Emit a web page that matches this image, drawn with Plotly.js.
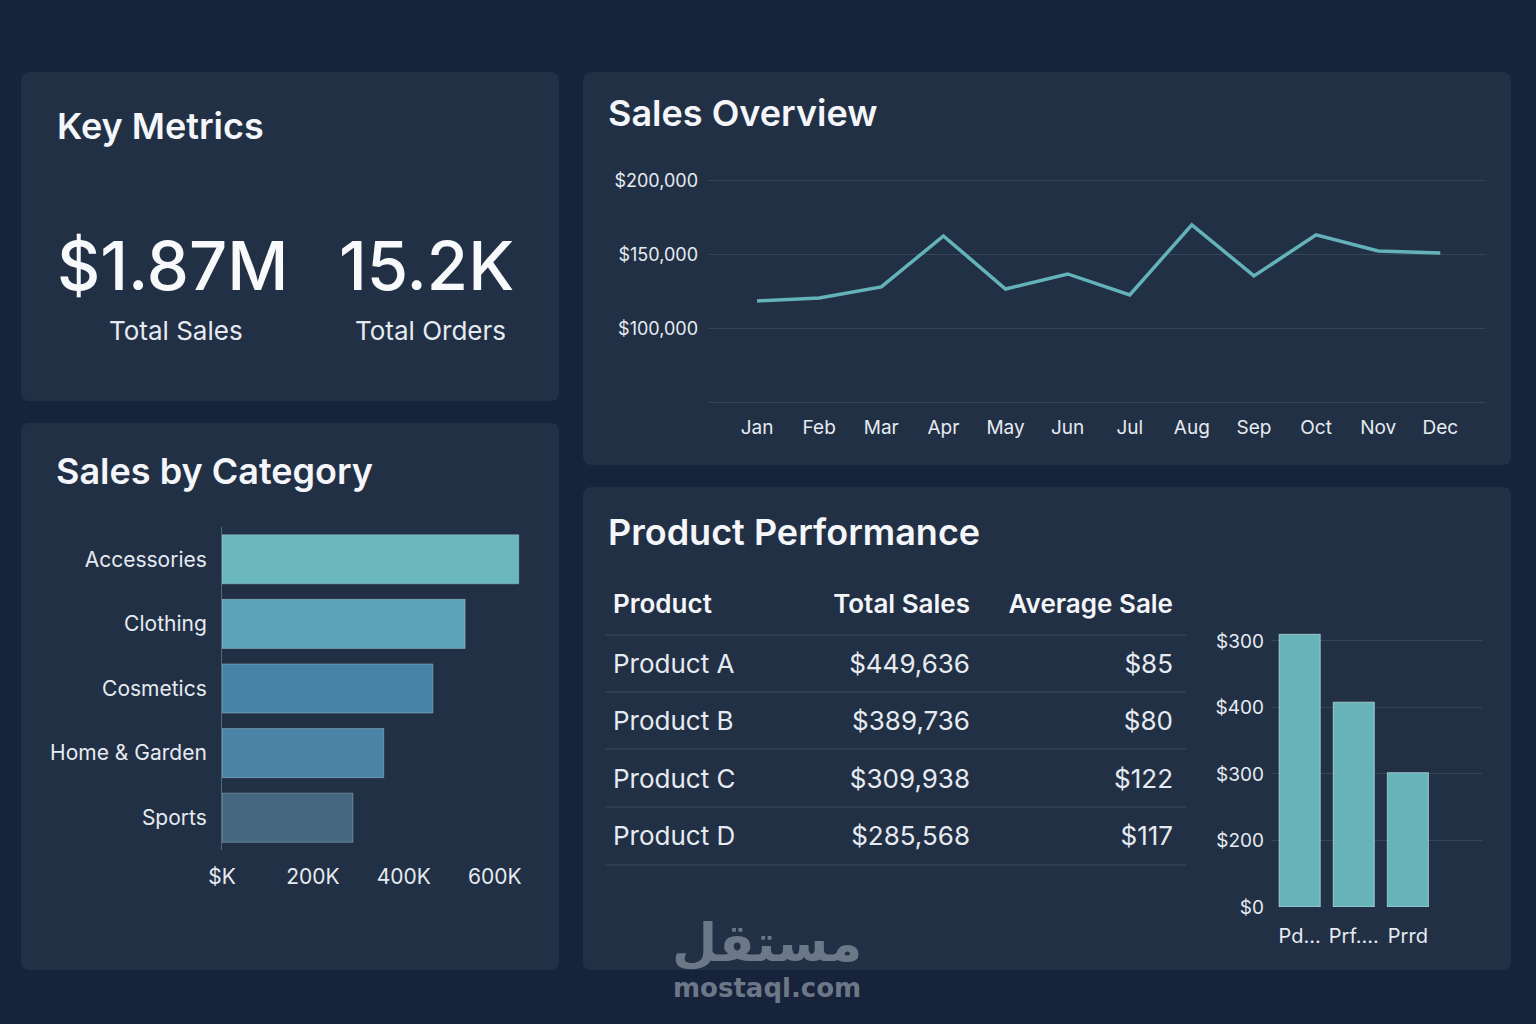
<!DOCTYPE html>
<html>
<head>
<meta charset="utf-8">
<script src="https://cdn.plot.ly/plotly-3.0.1.min.js"></script>
<style>
  html, body { margin:0; padding:0; background:#17233a; }
  #chart { width:1536px; height:1024px; }
</style>
</head>
<body>
<div id="chart"></div>
<script>
// ---------------- DATA ----------------
const metricValues = ["$1.87M", "15.2K"];
const metricLabels = ["Total Sales", "Total Orders"];

const months = ["Jan","Feb","Mar","Apr","May","Jun","Jul","Aug","Sep","Oct","Nov","Dec"];
const monthlySales = [118600, 120600, 128100, 162700, 126700, 136900, 122700, 170200, 135600, 163400, 152500, 151200];
const salesTickVals = [50000, 100000, 150000, 200000];
const salesTickText = ["", "$100,000", "$150,000", "$200,000"];

const categories = ["Accessories", "Clothing", "Cosmetics", "Home & Garden", "Sports"];
const categorySales = [653000, 535000, 464000, 356000, 288000];
const categoryTickVals = [0, 200000, 400000, 600000];
const categoryTickText = ["$K", "200K", "400K", "600K"];

const tableHeader = ["Product", "Total Sales", "Average Sale"];
const products = ["Product A", "Product B", "Product C", "Product D"];
const productTotalSales = [449636, 389736, 309938, 285568];
const productAvgSale = [85, 80, 122, 117];

const miniLabels = ["Pd...", "Prf....", "Prrd"];
const miniValues = [410, 308, 202];
const miniTickVals = [0, 100, 200, 300, 400];
const miniTickText = ["$0", "$200", "$300", "$400", "$300"];

// ---------------- STYLE ----------------
const W = 1536, H = 1024;
const px = x => x / W;
const py = y => 1 - y / H;
const BG = "#17233a";
const PANEL = "#223046";
const TEAL = "#64b3bb";
const TXT = "#e6ebf1";
const GRID = "rgba(255,255,255,0.10)";
const FONT = "Inter, 'Noto Sans', sans-serif";
const catColors = ["#6ab7bd", "#5da3b8", "#4682a6", "#4b84a6", "#45677f"];

function rr(x0, y0, x1, y1, r) {
  const X = x => px(x), Y = y => py(y);
  return `M ${X(x0 + r)} ${Y(y0)} L ${X(x1 - r)} ${Y(y0)} Q ${X(x1)} ${Y(y0)} ${X(x1)} ${Y(y0 + r)} ` +
         `L ${X(x1)} ${Y(y1 - r)} Q ${X(x1)} ${Y(y1)} ${X(x1 - r)} ${Y(y1)} L ${X(x0 + r)} ${Y(y1)} ` +
         `Q ${X(x0)} ${Y(y1)} ${X(x0)} ${Y(y1 - r)} L ${X(x0)} ${Y(y0 + r)} Q ${X(x0)} ${Y(y0)} ${X(x0 + r)} ${Y(y0)} Z`;
}
const panels = [
  [21, 72, 559, 401],
  [583, 72, 1511, 465],
  [21, 423, 559, 970],
  [583, 487, 1511, 970]
];
const shapes = panels.map(p => ({
  type: "path", xref: "paper", yref: "paper", layer: "below",
  path: rr(p[0], p[1], p[2], p[3], 9), fillcolor: PANEL, line: { width: 0 }
}));
// table row separators
[635, 692, 749, 807, 865].forEach(y => shapes.push({
  type: "line", xref: "paper", yref: "paper", layer: "above",
  x0: px(605), x1: px(1186), y0: py(y), y1: py(y),
  line: { color: "rgba(255,255,255,0.13)", width: 1 }
}));

function title(text, x, y) {
  return { text, x: px(x), y: py(y), xref: "paper", yref: "paper", xanchor: "left", yanchor: "middle",
           showarrow: false, font: { family: FONT, size: 36, color: "#f4f6f9", weight: 600 } };
}
const annotations = [
  title("Key Metrics", 55, 126),
  title("Sales Overview", 606, 113),
  title("Sales by Category", 54, 471),
  title("Product Performance", 606, 532)
];
const metricX = [172, 426];
metricValues.forEach((v, i) => {
  annotations.push({ text: v, x: px(metricX[i]), y: py(265), xref: "paper", yref: "paper",
    xanchor: "center", yanchor: "middle", showarrow: false,
    font: { family: FONT, size: 67, color: "#f7f9fb", weight: 500 } });
  annotations.push({ text: metricLabels[i], x: px(metricX[i] + 4), y: py(330), xref: "paper", yref: "paper",
    xanchor: "center", yanchor: "middle", showarrow: false,
    font: { family: FONT, size: 26, color: TXT } });
});
// watermark
annotations.push({ text: "مستقل", x: px(767), y: py(943), xref: "paper", yref: "paper",
  xanchor: "center", yanchor: "middle", showarrow: false,
  font: { family: "'DejaVu Sans', sans-serif", size: 52, color: "#6c7888", weight: 700 } });
annotations.push({ text: "mostaql.com", x: px(767), y: py(988), xref: "paper", yref: "paper",
  xanchor: "center", yanchor: "middle", showarrow: false,
  font: { family: "'DejaVu Sans', sans-serif", size: 26, color: "#6c7888", weight: 700 } });

// ---------------- TRACES ----------------
const traces = [
  {
    type: "scatter", mode: "lines", x: months, y: monthlySales, xaxis: "x", yaxis: "y",
    line: { color: TEAL, width: 3.5 }, hoverinfo: "skip"
  },
  {
    type: "bar", orientation: "h", x: categorySales, y: categories, xaxis: "x2", yaxis: "y2",
    marker: { color: catColors, line: { color: "rgba(190,230,235,0.35)", width: 1 } }, hoverinfo: "skip"
  },
  {
    type: "bar", x: miniLabels, y: miniValues, xaxis: "x3", yaxis: "y3",
    marker: { color: "#67b4bb", line: { color: "rgba(210,240,240,0.6)", width: 1 } }, hoverinfo: "skip"
  },
  {
    type: "table",
    domain: { x: [px(605), px(1181)], y: [py(875), py(585)] },
    columnwidth: [175, 198, 203],
    header: {
      values: tableHeader, align: ["left", "right", "right"], height: 60,
      fill: { color: PANEL }, line: { color: PANEL, width: 0 },
      font: { family: FONT, size: 26, color: "#f4f6f9", weight: 600 }
    },
    cells: {
      values: [products, productTotalSales, productAvgSale],
      format: ["", "$,.0f", "$,.0f"],
      align: ["left", "right", "right"], height: 57.5,
      fill: { color: PANEL }, line: { color: PANEL, width: 0 },
      font: { family: FONT, size: 26, color: TXT }
    }
  }
];

const axisFont = { family: FONT, size: 19, color: TXT };
const layout = {
  width: W, height: H,
  margin: { l: 0, r: 0, t: 0, b: 0 },
  paper_bgcolor: BG, plot_bgcolor: "rgba(0,0,0,0)",
  showlegend: false,
  font: { family: FONT, color: TXT },
  shapes, annotations,
  // line chart
  xaxis: {
    domain: [px(708), px(1485)], type: "category", range: [-0.79, 11.72],
    showgrid: false, zeroline: false, showline: false, ticks: "",
    tickfont: axisFont, ticklabelstandoff: 10, fixedrange: true
  },
  yaxis: {
    domain: [py(403.5), py(179.5)], range: [49000, 201000],
    tickvals: salesTickVals, ticktext: salesTickText,
    showgrid: true, gridcolor: GRID, gridwidth: 1, zeroline: false, showline: false, ticks: "",
    tickfont: { family: FONT, size: 18, color: TXT }, ticklabelstandoff: 9, fixedrange: true
  },
  // category bars
  xaxis2: {
    domain: [px(222), px(530)], range: [0, 677700], anchor: "y2",
    tickvals: categoryTickVals, ticktext: categoryTickText,
    showgrid: false, zeroline: false, showline: false, ticks: "",
    tickfont: { family: FONT, size: 21, color: TXT }, ticklabelstandoff: 12, fixedrange: true
  },
  yaxis2: {
    domain: [py(850), py(527)], type: "category", range: [4.5, -0.5], anchor: "x2",
    showgrid: false, zeroline: false, showline: true, linecolor: "#56667c", linewidth: 1, ticks: "",
    tickfont: { family: FONT, size: 21, color: TXT }, ticklabelstandoff: 10, fixedrange: true
  },
  bargap: 0.24,
  // mini bars
  xaxis3: {
    domain: [px(1271), px(1482)], type: "category", range: [-0.53, 3.37], anchor: "y3",
    showgrid: false, zeroline: false, showline: false, ticks: "",
    tickfont: { family: FONT, size: 20, color: TXT }, ticklabelstandoff: 15, fixedrange: true
  },
  yaxis3: {
    domain: [py(907), py(630)], range: [0, 416.5], anchor: "x3",
    tickvals: miniTickVals, ticktext: miniTickText,
    showgrid: true, gridcolor: GRID, zeroline: false, showline: false, ticks: "",
    tickfont: { family: FONT, size: 19, color: TXT }, ticklabelstandoff: 6, fixedrange: true
  }
};

Plotly.newPlot("chart", traces, layout, { displayModeBar: false, staticPlot: true });
</script>
</body>
</html>
